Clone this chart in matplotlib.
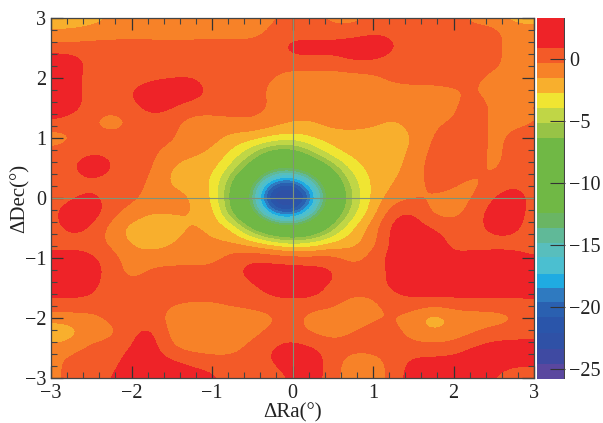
import matplotlib
matplotlib.use("Agg")
import matplotlib.pyplot as plt
from matplotlib.colors import ListedColormap, BoundaryNorm
from matplotlib.ticker import MultipleLocator
import numpy as np

plt.rcParams['font.family'] = ['Liberation Serif', 'DejaVu Serif']

ra = [-3,-2.75,-2.5,-2.25,-2,-1.75,-1.5,-1.25,-1,-.75,-.5,-.25,0,.25,.5,.75,1,1.25,1.5,1.75,2,2.25,2.5,2.75,3]
dec = [3,2.75,2.5,2.25,2,1.75,1.5,1.25,1,.75,.5,.25,0,-.25,-.5,-.75,-1,-1.25,-1.5,-1.75,-2,-2.25,-2.5,-2.75,-3]
significance = [
 [-2.1,-2.1,-2.1,-1.4,-1.6,-.9,-.9,-1.6,-.9,-.9,-.9,-.6,.3,.3,-.9,-.9,-.1,.3,.3,-.5,.3,-.9,-1.1,-2.1,-2.1],
 [-1.5,-1.5,-1.1,-.9,-.9,-.9,-.9,-.9,-.9,-.9,-.9,.0,.3,.3,.3,.3,.7,.6,.3,.3,.3,.3,.3,-.9,-.9],
 [.3,.3,.3,.3,.3,.3,.1,.3,.3,.3,.3,.3,1.6,1.4,1.5,1.8,2.0,1.1,.3,.3,.3,.3,.0,-.9,-.9],
 [1.8,1.7,.5,.3,.3,.3,.3,.3,.7,.4,.3,.3,.3,.6,.3,.9,.8,.3,.3,.3,.3,.3,.2,-.9,-.9],
 [1.8,1.5,.3,.3,.3,.6,.8,.9,.4,.3,.3,-.3,-.9,-.9,-.9,-.9,-.7,.1,.3,.3,.3,.0,-.7,-.9,-.9],
 [1.8,1.6,.3,.3,1.0,1.7,1.7,1.7,.6,.3,.2,-.7,-.9,-.9,-.9,-.9,-.9,-.9,-.9,-.9,-.6,-.2,-.9,-.9,-.4],
 [1.8,1.6,.3,.3,.5,1.6,1.1,.3,.3,.3,.2,-.4,-.9,-.9,-.9,-.9,-.9,-.9,-.9,-.8,-.7,.7,-.7,-.9,-.1],
 [.9,.3,-.1,-1.4,-.1,.3,.0,-.9,-.9,-.6,-.4,-1.0,-1.5,-1.6,-.9,-.9,-1.2,-1.8,-1.1,-.6,-.2,.3,-.7,-.7,-.4],
 [-1.3,-.5,.3,.3,.3,.3,.0,-1.0,-1.0,-1.9,-2.1,-2.6,-3.1,-2.5,-2.2,-2.1,-2.1,-2.1,-1.6,-.2,.5,.5,-.8,.1,.3],
 [.3,.3,.6,.6,.3,.0,-.9,-1.3,-1.6,-2.9,-4.8,-7.5,-7.5,-5.0,-2.8,-2.2,-2.1,-2.1,-1.3,.2,.5,.5,-.9,.3,.3],
 [.3,.5,2.5,.9,.3,-.1,-1.7,-2.0,-2.2,-4.2,-7.6,-11.2,-11.8,-9.5,-6.0,-3.2,-2.2,-2.0,-.9,.3,.4,.1,-.7,.3,.3],
 [.3,.3,.3,.3,.2,-.5,-1.9,-2.1,-2.6,-6.4,-11.7,-19.5,-21.0,-15.5,-8.5,-4.4,-2.4,-1.5,-.9,.2,-.1,-.7,.0,.7,.3],
 [.3,.6,1.5,.3,.2,-.9,-.9,-1.5,-2.5,-7.0,-13.5,-24.5,-25.5,-19.5,-9.7,-5.0,-2.3,-1.0,-.4,-.4,-.7,-.5,1.0,1.7,.4],
 [.5,1.8,1.8,.3,-.9,-1.6,-1.4,-1.5,-2.0,-6.4,-11.7,-19.5,-21.0,-15.5,-8.5,-4.4,-2.1,.7,1.2,-.9,-.9,.2,1.7,1.7,.3],
 [.3,1.5,.9,-.9,-2.1,-2.1,-2.1,-1.4,-1.8,-2.6,-6.5,-10.0,-11.5,-9.5,-5.5,-2.6,-.9,1.6,1.6,1.0,.3,.3,1.6,1.5,.0],
 [.3,.3,.3,-.7,-1.8,-2.0,-1.7,-.9,-1.4,-1.5,-2.2,-3.2,-4.2,-3.6,-2.6,-2.0,-.9,1.5,1.5,1.5,.6,.3,.3,.3,.3],
 [1.5,1.5,1.3,.3,-1.0,-1.2,-.9,-.9,-.9,.4,.9,.7,.5,.3,.3,-1.0,.3,1.5,1.5,1.5,1.0,1.5,1.5,1.5,1.0],
 [1.5,1.5,1.5,.5,-1.0,.2,.3,.2,.3,.5,1.5,1.5,1.5,1.5,1.2,.3,.3,1.2,1.5,1.5,1.5,1.5,1.5,1.5,1.5],
 [1.5,1.5,1.2,.3,.3,.3,.3,.3,.3,.3,.6,1.6,1.6,1.6,.5,.3,.3,1.3,1.6,1.6,1.6,1.6,1.6,1.6,1.6],
 [.7,.7,.7,.3,.3,.3,-.2,-.4,-.4,-.1,.1,.5,.6,.6,.2,-.9,-.7,.3,.6,.6,.6,.6,.6,.6,.6],
 [-.9,-.9,-.9,.1,.3,.3,-.9,-.9,-.9,-.9,-.9,-.7,.3,-1.2,-1.2,-1.2,-.5,-.4,-.9,-2.8,-1.3,-1.1,-1.1,-.6,.3],
 [-2.9,-2.2,-.9,-.9,.7,1.5,-.9,-.9,-.9,-.9,-.9,.2,.3,-.5,-.9,-.2,.3,.3,-1.0,-1.3,-1.1,-.4,.3,.4,.5],
 [-.9,-.8,.1,.3,1.0,1.7,-.4,-.9,-.9,-.9,.2,1.0,1.5,1.2,.3,.3,.3,.3,.3,.1,.4,1.2,1.5,1.5,1.5],
 [-.9,.3,.3,.5,1.5,1.5,1.4,.8,.3,.3,.3,1.0,1.5,1.5,.5,-1.4,-1.2,.3,1.3,1.5,1.5,1.5,1.5,1.3,1.3],
 [-.9,.2,.3,1.0,1.5,1.5,1.5,1.5,1.3,.2,-.6,.3,1.1,1.5,.3,-1.4,-1.4,.4,1.5,1.5,1.5,1.4,1.0,.0,.0],
]
levels = [-25.8,-24.6,-23.4,-22.1,-20.8,-19.6,-18.5,-17.3,-16.0,-14.8,-13.6,-12.4,-6.4,-5.2,-3.95,-2.74,-1.53,-0.32,0.89,3.3]
band_colors = ['#5a479f','#3f4aa2','#2f51a6','#2a55aa','#2a60b0','#2f7ac0','#1fabe2','#4bbfd0','#58bebd','#60b998','#6ab564',
               '#70b845','#98c346','#c0d646','#f0e532','#f8af2d','#f78228','#f35a28','#ee2328']
cbar_ticks = [0,-5,-10,-15,-20,-25]
ticks_main = [-3,-2,-1,0,1,2,3]

fig = plt.figure(figsize=(6.03,4.23), dpi=100)
W,H = 603,423
ax = fig.add_axes([51/W,(H-378)/H,(534-51)/W,(378-18)/H])
cmap = ListedColormap(band_colors)
norm = BoundaryNorm(levels, cmap.N)
step = abs(ra[1]-ra[0])/2
im = ax.imshow(np.array(significance), extent=[ra[0]-step,ra[-1]+step,dec[-1]-step,dec[0]+step], origin='upper',
               aspect='auto', cmap=cmap, norm=norm, interpolation='bicubic', interpolation_stage='data')
ax.axhline(0, color='#7f9478', lw=0.8)
ax.axvline(0, color='#7f9478', lw=0.8)
ax.set_xlim(-3,3); ax.set_ylim(-3,3)
ax.set_xticks(ticks_main); ax.set_yticks(ticks_main)
ax.xaxis.set_minor_locator(MultipleLocator(0.2))
ax.yaxis.set_minor_locator(MultipleLocator(0.2))
ax.tick_params(axis='x', which='major', pad=4.5)
ax.tick_params(which='major', direction='in', top=True, right=True, length=8.5, width=0.9, color='#333333', labelsize=14.5, labelcolor='#222222')
ax.tick_params(which='minor', direction='in', top=True, right=True, length=4.2, width=0.8, color='#444444')
for s in ax.spines.values():
    s.set_color('#444444'); s.set_linewidth(0.9)
ax.set_xlabel('ΔRa(°)', fontsize=15, labelpad=0, color='#222222')
ax.set_ylabel('ΔDec(°)', fontsize=15, labelpad=-4, color='#222222')

cax = fig.add_axes([537/W,(H-379)/H,(565-537)/W,(379-18)/H])
cb = fig.colorbar(im, cax=cax, spacing='proportional')
cb.set_ticks(cbar_ticks)
cb.ax.minorticks_off()
cb.ax.tick_params(direction='in', length=11, width=0.8, color='#333333', labelsize=14.5, labelcolor='#222222', pad=3, right=True, left=False)
cb.outline.set_visible(False)
cax.axvline(1,color='#444444')
fig.savefig('out.png', dpi=100)
